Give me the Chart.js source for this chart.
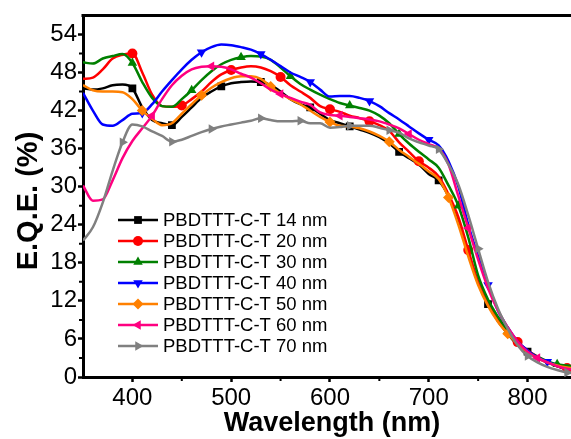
<!DOCTYPE html>
<html>
<head>
<meta charset="utf-8">
<script src="https://cdn.jsdelivr.net/npm/chart.js@4/dist/chart.umd.min.js"></script>
<style>
html, body { margin: 0; padding: 0; background: #fff; }
canvas { display: block; }
</style>
</head>
<body>
<canvas id="eqeChart" width="571" height="439"></canvas>
<script>
// Wavelength grid (nm)
const wavelength = [350, 360, 370, 380, 390, 400, 410, 420, 430, 440, 450, 460, 470, 480, 490,
    500, 510, 520, 530, 540, 550, 560, 570, 580, 590, 600, 610, 620, 630, 640, 650, 660, 670, 680,
    690, 700, 710, 720, 730, 740, 750, 760, 770, 780, 790, 800, 810, 820, 830, 840, 850];

// E.Q.E. (%)
const eqe14nm = [45.5, 45.3, 45.5, 46.0, 46.1, 45.5, 42.5, 40.5, 40.0, 39.7, 41.0, 42.5, 44.0, 45.0, 45.8,
    46.3, 46.5, 46.6, 46.5, 46.0, 45.0, 43.8, 43.0, 42.5, 41.5, 40.5, 40.0, 39.5, 39.0, 38.5, 37.8, 36.8,
    35.5, 34.5, 33.5, 32.0, 31.0, 28.5, 24.5, 19.5, 14.8, 11.5, 8.8, 6.8, 5.0, 4.0, 3.0, 2.3, 1.7, 1.2, 1.0];
const eqe20nm = [47.0, 47.2, 48.5, 50.2, 50.8, 51.0, 48.0, 44.5, 42.7, 42.6, 42.8, 43.8, 45.0, 46.5, 47.7,
    48.4, 48.8, 49.0, 48.8, 48.2, 47.3, 46.0, 45.0, 44.0, 42.7, 42.2, 41.8, 41.2, 40.8, 40.3, 39.7, 38.8,
    37.0, 35.5, 34.0, 33.0, 31.6, 28.8, 25.2, 20.0, 15.0, 11.8, 9.2, 7.2, 5.5, 4.2, 3.2, 2.4, 1.8, 1.4, 1.2];
const eqe30nm = [49.6, 49.4, 50.2, 50.6, 50.9, 49.5, 46.5, 44.0, 42.7, 42.6, 43.8, 45.2, 46.8, 48.2, 49.3,
    50.0, 50.4, 50.6, 50.5, 50.0, 48.8, 47.4, 46.2, 45.3, 44.5, 43.8, 43.2, 42.8, 42.4, 42.0, 41.2, 40.0,
    38.3, 36.8, 35.5, 34.3, 33.0, 30.2, 27.0, 22.0, 16.0, 12.2, 9.5, 7.3, 5.5, 4.1, 3.2, 2.5, 2.0, 1.8, 1.6];
const eqe40nm = [44.8, 42.0, 39.8, 39.6, 40.5, 41.5, 41.6, 43.0, 45.0, 46.8, 48.5, 50.0, 51.2, 52.0, 52.4,
    52.3, 52.0, 51.6, 50.9, 50.0, 49.0, 48.0, 47.3, 46.5, 45.3, 44.2, 44.3, 44.3, 44.0, 43.5, 42.7, 41.6,
    40.6, 39.5, 38.4, 37.4, 36.5, 34.0, 30.0, 24.0, 19.0, 14.5, 10.5, 7.8, 5.6, 4.2, 3.1, 2.4, 1.8, 1.4, 1.2];
const eqe50nm = [46.0, 45.2, 45.0, 45.0, 44.9, 43.8, 42.0, 40.7, 39.7, 40.0, 41.5, 43.0, 44.4, 45.6, 46.5,
    47.1, 47.4, 47.4, 47.0, 45.8, 44.7, 43.8, 43.0, 42.0, 41.0, 40.2, 39.6, 39.5, 39.2, 38.7, 38.0, 37.1,
    35.8, 34.7, 33.6, 32.4, 31.2, 28.3, 24.0, 19.0, 14.5, 11.2, 8.7, 6.8, 5.2, 3.9, 3.0, 2.3, 1.8, 1.5, 1.3];
const eqe60nm = [30.2, 27.8, 28.0, 31.0, 34.5, 37.2, 39.2, 41.2, 43.8, 46.0, 47.5, 48.5, 48.9, 49.0, 48.9,
    48.5, 47.8, 47.2, 46.3, 45.3, 44.6, 44.0, 43.4, 42.9, 41.7, 41.3, 41.2, 41.0, 40.8, 40.6, 40.3, 39.8,
    39.2, 38.3, 37.4, 36.7, 36.0, 33.5, 28.5, 23.5, 18.5, 14.0, 10.5, 7.8, 5.6, 4.0, 3.0, 2.3, 1.7, 1.3, 1.1];
const eqe70nm = [21.5, 23.6, 27.5, 32.5, 37.0, 39.8, 39.5, 38.7, 38.0, 37.1, 37.4, 38.0, 38.6, 39.1, 39.5,
    39.8, 40.1, 40.4, 40.8, 40.5, 40.3, 40.3, 40.4, 40.0, 40.0, 39.3, 39.4, 39.6, 39.6, 39.6, 39.3, 38.9,
    38.5, 37.6, 37.0, 36.5, 35.9, 33.5, 30.3, 25.5, 20.2, 15.0, 10.8, 7.6, 5.0, 3.3, 2.3, 1.6, 1.1, 0.7, 0.6];

const seriesLabels = ['PBDTTT-C-T 14 nm', 'PBDTTT-C-T 20 nm', 'PBDTTT-C-T 30 nm', 'PBDTTT-C-T 40 nm',
    'PBDTTT-C-T 50 nm', 'PBDTTT-C-T 60 nm', 'PBDTTT-C-T 70 nm'];
const seriesValues = [eqe14nm, eqe20nm, eqe30nm, eqe40nm, eqe50nm, eqe60nm, eqe70nm];
const yTicks = [0, 6, 12, 18, 24, 30, 36, 42, 48, 54];
const yMinorTicks = [3, 9, 15, 21, 27, 33, 39, 45, 51];
const xTicks = [400, 500, 600, 700, 800];
const xMinorTicks = [450, 550, 650, 750];

const colors = ['#000000', '#ff0000', '#008000', '#0000ff', '#ff8000', '#ff0080', '#808080'];
const pointStyles = ['rect', 'circle', 'triangle', 'triangle', 'rectRot', 'triangle', 'triangle'];
const rotations = [0, 0, 0, 180, 0, 270, 90];
const markerSizes = [5.5, 5, 5.5, 5.5, 5.5, 5.5, 5.5];
// first marker wavelength and spacing for each curve
const markerStart = [395, 399, 402, 409, 412, 417, 394];
const markerStep = [45, 49, 54, 58, 62, 65, 45];

const fontFamily = 'Arial, "Liberation Sans", sans-serif';

function markerRadius(i) {
    return function(ctx) {
        const idx = ctx.dataIndex;
        for (let m = markerStart[i]; m <= 850; m += markerStep[i]) {
            if (Math.round((m - 350) / 10) === idx) return markerSizes[i];
        }
        return 0;
    };
}

const datasets = seriesValues.map((vals, i) => ({
    label: seriesLabels[i],
    data: vals.map((v, k) => ({ x: wavelength[k], y: v })),
    borderColor: colors[i],
    backgroundColor: colors[i],
    borderWidth: 2.5,
    pointStyle: pointStyles[i],
    pointRotation: rotations[i],
    pointRadius: markerRadius(i),
    pointBorderWidth: 0,
    pointBackgroundColor: colors[i],
    cubicInterpolationMode: 'monotone',
    order: 7 - i
}));

// top frame line, minor ticks, axis titles and in-plot legend
const extras = {
    id: 'extras',
    afterDraw(chart) {
        const ctx = chart.ctx;
        const a = chart.chartArea;
        const xs = chart.scales.x;
        const ys = chart.scales.y;
        ctx.save();
        ctx.strokeStyle = '#000';
        ctx.lineWidth = 3;
        ctx.beginPath();
        ctx.moveTo(a.left - 1.5, a.top);
        ctx.lineTo(chart.width, a.top);
        ctx.stroke();

        ctx.lineWidth = 2;
        ctx.beginPath();
        xMinorTicks.forEach(v => {
            const px = xs.getPixelForValue(v);
            ctx.moveTo(px, a.bottom);
            ctx.lineTo(px, a.bottom + 4);
        });
        yMinorTicks.forEach(v => {
            const py = ys.getPixelForValue(v);
            ctx.moveTo(a.left, py);
            ctx.lineTo(a.left - 4, py);
        });
        ctx.stroke();

        // axis titles
        ctx.fillStyle = '#000';
        ctx.textAlign = 'center';
        ctx.textBaseline = 'middle';
        ctx.font = 'bold 27px ' + fontFamily;
        ctx.fillText('Wavelength (nm)', 332, 424);
        ctx.save();
        ctx.translate(29, 201);
        ctx.rotate(-Math.PI / 2);
        ctx.font = 'bold 29px ' + fontFamily;
        ctx.fillText('E.Q.E. (%)', 0, 0);
        ctx.restore();

        // legend
        ctx.font = '18.5px ' + fontFamily;
        ctx.textBaseline = 'middle';
        ctx.textAlign = 'left';
        seriesLabels.forEach((lab, i) => {
            const yy = 220 + i * 21;
            ctx.strokeStyle = colors[i];
            ctx.fillStyle = colors[i];
            ctx.lineWidth = 2.5;
            ctx.beginPath();
            ctx.moveTo(118, yy);
            ctx.lineTo(158, yy);
            ctx.stroke();
            Chart.helpers.drawPoint(ctx, {
                pointStyle: pointStyles[i],
                rotation: rotations[i],
                radius: markerSizes[i],
                borderWidth: 0
            }, 138, yy);
            ctx.fillStyle = '#000';
            ctx.fillText(lab, 163, yy + 1);
        });
        ctx.restore();
    }
};

new Chart(document.getElementById('eqeChart').getContext('2d'), {
    type: 'line',
    data: { datasets: datasets },
    options: {
        responsive: false,
        animation: false,
        layout: { autoPadding: false, padding: { top: 13, right: 0, left: 0, bottom: 0 } },
        plugins: {
            legend: { display: false },
            tooltip: { enabled: false }
        },
        scales: {
            x: {
                type: 'linear',
                min: 350,
                max: 844,
                afterBuildTicks: function(scale) {
                    scale.ticks = xTicks.map(v => ({ value: v }));
                },
                afterFit: function(scale) {
                    scale.height = 62;
                },
                grid: {
                    drawOnChartArea: false,
                    tickLength: 5,
                    tickWidth: 2.5,
                    tickColor: '#000'
                },
                border: { color: '#000', width: 3 },
                ticks: {
                    color: '#000',
                    padding: 2,
                    maxRotation: 0,
                    font: { family: fontFamily, size: 24 }
                }
            },
            y: {
                min: 0,
                max: 57,
                afterBuildTicks: function(scale) {
                    scale.ticks = yTicks.map(v => ({ value: v }));
                },
                afterFit: function(scale) {
                    scale.width = 83;
                },
                grid: {
                    drawOnChartArea: false,
                    tickLength: 5,
                    tickWidth: 2.5,
                    tickColor: '#000'
                },
                border: { color: '#000', width: 3 },
                ticks: {
                    color: '#000',
                    padding: 1,
                    font: { family: fontFamily, size: 24 }
                }
            }
        }
    },
    plugins: [extras]
});
</script>
</body>
</html>
